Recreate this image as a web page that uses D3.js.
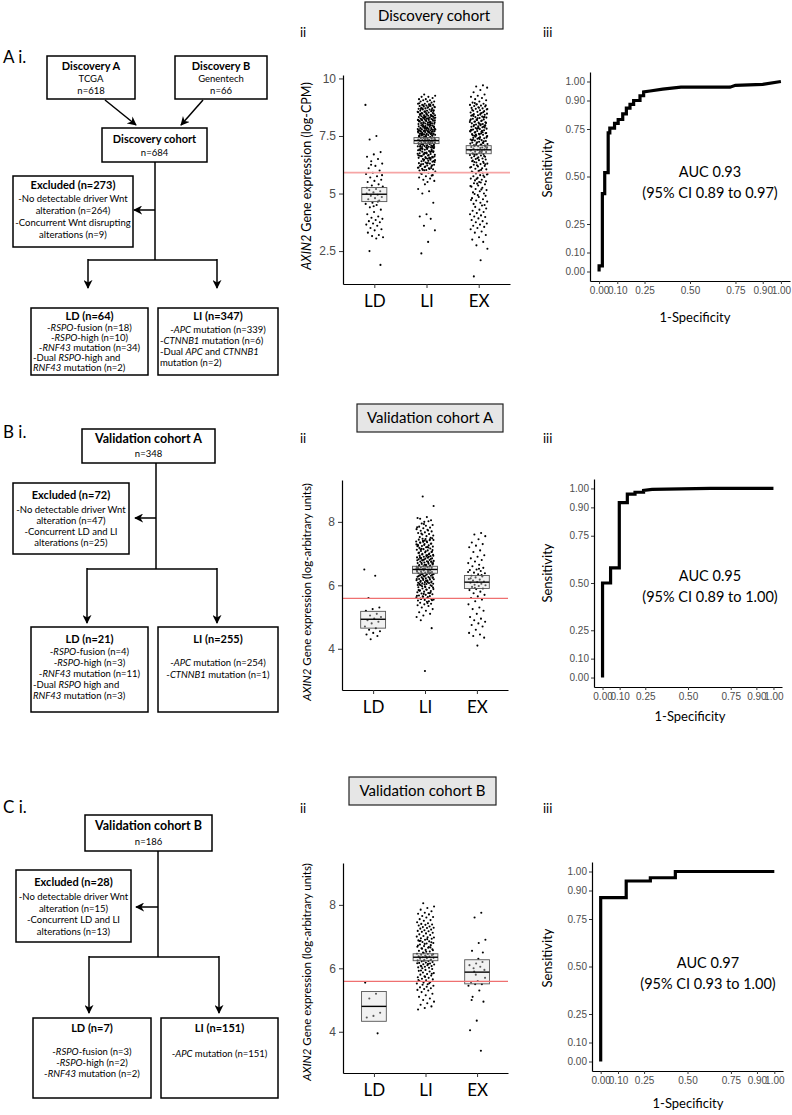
<!DOCTYPE html>
<html>
<head>
<meta charset="utf-8">
<script src="https://cdn.jsdelivr.net/npm/d3@7"></script>
<style>
  body { margin: 0; background: #fff; }
  svg { display: block; }
  text { white-space: pre; }
</style>
</head>
<body>
<div id="fig"></div>
<script>
// ---- data ----
const groups = ["LD", "LI", "EX"];

// Discovery cohort, AXIN2 log-CPM
const discLD = [8.85, 7.5, 7.35, 6.8, 6.7, 6.6, 6.5, 6.4, 6.3, 6.2, 6.1, 6.0, 5.9, 5.85, 5.75, 5.7, 5.6, 5.55, 5.5, 5.4, 5.35, 5.3, 5.2, 5.15, 5.1, 5.05, 5.0, 4.95, 4.9, 4.85, 4.8, 4.75, 4.7, 4.6, 4.55, 4.5, 4.4, 4.3, 4.2, 4.1, 4.0, 3.95, 3.9, 3.85, 3.8, 3.75, 3.7, 3.65, 3.6, 3.5, 3.45, 3.4, 3.3, 3.2, 3.15, 3.1, 3.05, 2.5, 1.9, 4.45, 5.25, 4.65, 6.25, 5.8];
const discLI = [9.3, 9.25, 9.2, 9.2, 9.15, 9.1, 9.1, 9.05, 9.05, 9.0, 9.0, 9.0,
  8.95, 8.9, 8.9, 8.88, 8.85, 8.85, 8.82, 8.8, 8.8, 8.78, 8.75, 8.75, 8.72, 8.7, 8.7, 8.68, 8.65, 8.65, 8.62, 8.6, 8.6, 8.58, 8.55, 8.55, 8.52, 8.5, 8.5, 8.5, 8.92, 8.87, 8.83, 8.77, 8.73, 8.67, 8.63, 8.57, 8.53, 8.81, 8.69, 8.59,
  8.45, 8.44, 8.42, 8.4, 8.4, 8.38, 8.36, 8.35, 8.34, 8.32, 8.3, 8.3, 8.28, 8.26, 8.25, 8.24, 8.22, 8.2, 8.2, 8.18, 8.16, 8.15, 8.14, 8.12, 8.1, 8.1, 8.08, 8.06, 8.05, 8.04, 8.02, 8.0, 8.0, 8.47, 8.43, 8.41, 8.37, 8.33, 8.29, 8.27, 8.23, 8.21, 8.17, 8.13, 8.11, 8.07, 8.03, 8.01, 8.46, 8.39, 8.31, 8.19, 8.09, 8.48, 8.35, 8.25, 8.15, 8.05, 8.28, 8.18,
  7.98, 7.96, 7.95, 7.93, 7.92, 7.9, 7.9, 7.88, 7.87, 7.85, 7.84, 7.82, 7.8, 7.8, 7.79, 7.77, 7.76, 7.75, 7.74, 7.72, 7.71, 7.7, 7.7, 7.68, 7.67, 7.65, 7.64, 7.62, 7.61, 7.6, 7.6, 7.58, 7.57, 7.55, 7.54, 7.52, 7.51, 7.5, 7.5, 7.99, 7.94, 7.89, 7.86, 7.83, 7.78, 7.73, 7.69, 7.66, 7.63, 7.59, 7.56, 7.53, 7.97, 7.91, 7.81, 7.71, 7.61, 7.52, 7.85, 7.75, 7.65, 7.55, 7.92, 7.82, 7.72, 7.62, 7.88, 7.78, 7.68, 7.58, 7.7,
  7.48, 7.46, 7.45, 7.43, 7.42, 7.4, 7.4, 7.38, 7.36, 7.35, 7.33, 7.32, 7.3, 7.3, 7.28, 7.26, 7.25, 7.23, 7.22, 7.2, 7.2, 7.18, 7.16, 7.15, 7.13, 7.12, 7.1, 7.1, 7.08, 7.06, 7.05, 7.03, 7.02, 7.0, 7.0, 7.47, 7.44, 7.41, 7.37, 7.34, 7.29, 7.27, 7.24, 7.19, 7.17, 7.14, 7.09, 7.07, 7.04, 7.01, 7.45, 7.35, 7.25, 7.15, 7.05, 7.42, 7.32, 7.22, 7.12, 7.02,
  6.98, 6.95, 6.92, 6.9, 6.88, 6.85, 6.82, 6.8, 6.78, 6.75, 6.72, 6.7, 6.68, 6.65, 6.62, 6.6, 6.58, 6.55, 6.52, 6.5, 6.97, 6.93, 6.87, 6.83, 6.77, 6.73, 6.67, 6.63, 6.57, 6.53, 6.91, 6.81, 6.71, 6.61, 6.51, 6.96, 6.86, 6.76, 6.66, 6.56, 6.94, 6.84, 6.74, 6.64, 6.54,
  6.48, 6.45, 6.42, 6.4, 6.38, 6.35, 6.32, 6.3, 6.28, 6.25, 6.22, 6.2, 6.18, 6.15, 6.12, 6.1, 6.08, 6.05, 6.02, 6.0, 6.47, 6.43, 6.37, 6.33, 6.27, 6.23, 6.17, 6.13, 6.07, 6.03, 6.41, 6.31, 6.21, 6.11, 6.01,
  5.95, 5.9, 5.85, 5.8, 5.75, 5.7, 5.65, 5.6, 5.55, 5.5, 5.88, 5.78, 5.4, 5.2, 5.1, 5.0,
  4.6, 4.1, 4.0, 3.9, 3.6, 3.4, 2.9, 2.4];
const discEX = [9.7, 9.65, 9.6, 9.5, 9.4, 9.3, 9.25, 9.2, 9.15, 9.1, 9.05, 9.0,
  8.95, 8.9, 8.88, 8.85, 8.82, 8.8, 8.78, 8.75, 8.72, 8.7, 8.68, 8.65, 8.62, 8.6, 8.58, 8.55, 8.52, 8.5, 8.93, 8.83, 8.73, 8.63, 8.53, 8.87, 8.67,
  8.48, 8.45, 8.42, 8.4, 8.38, 8.35, 8.32, 8.3, 8.28, 8.25, 8.22, 8.2, 8.18, 8.15, 8.12, 8.1, 8.08, 8.05, 8.02, 8.0, 8.47, 8.43, 8.37, 8.33, 8.27, 8.23, 8.17, 8.13, 8.07, 8.03, 8.41, 8.31, 8.21, 8.11, 8.01,
  7.98, 7.95, 7.92, 7.9, 7.88, 7.85, 7.82, 7.8, 7.78, 7.75, 7.72, 7.7, 7.68, 7.65, 7.62, 7.6, 7.58, 7.55, 7.52, 7.5, 7.97, 7.93, 7.87, 7.83, 7.77, 7.73, 7.67, 7.63, 7.57, 7.53, 7.91, 7.81, 7.71, 7.61, 7.51, 7.96, 7.86, 7.76, 7.66, 7.56,
  7.48, 7.45, 7.42, 7.4, 7.38, 7.35, 7.32, 7.3, 7.28, 7.25, 7.22, 7.2, 7.18, 7.15, 7.12, 7.1, 7.08, 7.05, 7.02, 7.0, 7.47, 7.43, 7.37, 7.33, 7.27, 7.23, 7.17, 7.13, 7.07, 7.03, 7.41, 7.31, 7.21, 7.11, 7.01,
  6.98, 6.95, 6.92, 6.9, 6.88, 6.85, 6.82, 6.8, 6.77, 6.75, 6.72, 6.7, 6.67, 6.65, 6.62, 6.6, 6.57, 6.55, 6.52, 6.5, 6.93, 6.83, 6.73, 6.63, 6.53, 6.87, 6.78, 6.68,
  6.48, 6.45, 6.4, 6.38, 6.35, 6.3, 6.28, 6.25, 6.2, 6.18, 6.15, 6.1, 6.08, 6.05, 6.0, 6.43, 6.33, 6.23, 6.13, 6.03, 6.37, 6.27,
  5.98, 5.95, 5.9, 5.87, 5.83, 5.8, 5.75, 5.72, 5.68, 5.65, 5.6, 5.57, 5.53, 5.5, 5.93, 5.78, 5.63, 5.85,
  5.48, 5.45, 5.4, 5.35, 5.3, 5.25, 5.2, 5.15, 5.1, 5.05, 5.0, 5.43, 5.33, 5.18,
  4.98, 4.9, 4.85, 4.8, 4.75, 4.7, 4.65, 4.6, 4.55, 4.5, 4.93, 4.72,
  4.48, 4.42, 4.35, 4.3, 4.25, 4.2, 4.15, 4.1, 4.05, 4.0,
  3.98, 3.92, 3.85, 3.8, 3.75, 3.7, 3.65, 3.6, 3.55, 3.5,
  3.45, 3.35, 3.3, 3.2, 3.1, 3.0, 2.9, 2.75, 2.6, 2.1, 1.4];

// Validation cohort A, log-arbitrary units
const valALD = [6.5, 6.3, 5.6, 5.3, 5.25, 5.2, 5.1, 5.05, 5.0, 4.95, 4.9, 4.85, 4.8, 4.7, 4.65, 4.6, 4.55, 4.5, 4.45, 4.4, 4.3];
const valALI = [8.8, 8.5, 8.15, 8.1, 8.05, 8.0, 8.12, 8.02,
  7.95, 7.9, 7.88, 7.85, 7.82, 7.8, 7.77, 7.75, 7.72, 7.7, 7.67, 7.65, 7.62, 7.6, 7.57, 7.55, 7.52, 7.5, 7.93, 7.83, 7.73, 7.63,
  7.48, 7.46, 7.44, 7.42, 7.4, 7.38, 7.36, 7.34, 7.32, 7.3, 7.28, 7.26, 7.24, 7.22, 7.2, 7.18, 7.16, 7.14, 7.12, 7.1, 7.08, 7.06, 7.04, 7.02, 7.0, 7.47, 7.43, 7.39, 7.35, 7.31, 7.27, 7.23, 7.19, 7.15, 7.11, 7.07, 7.03, 7.45, 7.37, 7.29, 7.21, 7.13, 7.05, 7.41, 7.25,
  6.98, 6.97, 6.96, 6.95, 6.94, 6.92, 6.9, 6.88, 6.87, 6.86, 6.85, 6.84, 6.82, 6.8, 6.78, 6.77, 6.76, 6.75, 6.74, 6.72, 6.7, 6.68, 6.67, 6.66, 6.65, 6.64, 6.62, 6.6, 6.58, 6.57, 6.56, 6.55, 6.54, 6.52, 6.5, 6.99, 6.93, 6.91, 6.89, 6.83, 6.81, 6.79, 6.73, 6.71, 6.69, 6.63, 6.61, 6.59, 6.53, 6.51, 6.95, 6.85, 6.75, 6.65, 6.55, 6.9, 6.8, 6.7, 6.6, 6.5,
  6.48, 6.47, 6.46, 6.45, 6.44, 6.42, 6.4, 6.38, 6.37, 6.36, 6.35, 6.34, 6.32, 6.3, 6.28, 6.27, 6.26, 6.25, 6.24, 6.22, 6.2, 6.18, 6.17, 6.16, 6.15, 6.14, 6.12, 6.1, 6.08, 6.07, 6.06, 6.05, 6.04, 6.02, 6.0, 6.49, 6.43, 6.41, 6.39, 6.33, 6.31, 6.29, 6.23, 6.21, 6.19, 6.13, 6.11, 6.09, 6.03, 6.01, 6.45, 6.35, 6.25, 6.15, 6.05, 6.4, 6.3, 6.2, 6.1, 6.0,
  5.98, 5.96, 5.94, 5.92, 5.9, 5.88, 5.86, 5.84, 5.82, 5.8, 5.78, 5.76, 5.74, 5.72, 5.7, 5.68, 5.66, 5.64, 5.62, 5.6, 5.58, 5.56, 5.54, 5.52, 5.5, 5.97, 5.93, 5.87, 5.83, 5.77, 5.73, 5.67, 5.63, 5.57, 5.53, 5.95, 5.85, 5.75, 5.65, 5.55,
  5.48, 5.45, 5.42, 5.4, 5.37, 5.35, 5.3, 5.25, 5.2, 5.15, 5.1, 5.05, 5.0, 5.44,
  4.9, 4.65, 3.3];
const valAEX = [7.65, 7.6, 7.55, 7.45, 7.35, 7.3, 7.25, 7.2, 7.1, 7.05, 6.95, 6.9, 6.85, 6.8, 6.75, 6.7, 6.65, 6.6, 6.55, 6.5, 6.48, 6.45, 6.4, 6.38, 6.35, 6.3, 6.28, 6.25, 6.2, 6.18, 6.15, 6.12, 6.1, 6.08, 6.05, 6.02, 6.0, 5.98, 5.95, 5.9, 5.88, 5.85, 5.8, 5.75, 5.7, 5.65, 5.6, 5.55, 5.5, 5.4, 5.3, 5.25, 5.2, 5.1, 5.0, 4.95, 4.9, 4.85, 4.8, 4.75, 4.7, 4.6, 4.5, 4.45, 4.4, 4.35, 4.1, 6.22, 6.32, 5.92, 6.42, 6.52];

// Validation cohort B, log-arbitrary units
const valBLD = [5.55, 5.2, 5.05, 4.6, 4.5, 4.45, 3.95];
const valBLI = [8.05, 7.95, 7.9, 7.85, 7.8, 7.75, 7.72, 7.7, 7.65, 7.62, 7.6, 7.55, 7.52, 7.5,
  7.45, 7.42, 7.4, 7.38, 7.37, 7.35, 7.32, 7.3, 7.28, 7.27, 7.25, 7.22, 7.2, 7.18, 7.17, 7.15, 7.12, 7.1, 7.07, 7.05, 7.02, 7.0,
  6.98, 6.95, 6.93, 6.9, 6.88, 6.85, 6.83, 6.8, 6.78, 6.75, 6.73, 6.7, 6.68, 6.65, 6.63, 6.6, 6.58, 6.55, 6.53, 6.5, 6.97, 6.92, 6.87, 6.82, 6.77, 6.72, 6.67, 6.62, 6.57, 6.52, 6.86, 6.66,
  6.48, 6.46, 6.45, 6.43, 6.42, 6.4, 6.38, 6.37, 6.35, 6.33, 6.32, 6.3, 6.28, 6.27, 6.25, 6.23, 6.22, 6.2, 6.18, 6.17, 6.15, 6.13, 6.12, 6.1, 6.08, 6.07, 6.05, 6.03, 6.02, 6.0, 6.44, 6.36, 6.34, 6.26, 6.24, 6.16, 6.14, 6.06,
  5.98, 5.95, 5.92, 5.9, 5.87, 5.85, 5.82, 5.8, 5.77, 5.75, 5.72, 5.7, 5.67, 5.65, 5.62, 5.6, 5.57, 5.55, 5.52, 5.5, 5.93, 5.83, 5.73, 5.63, 5.53,
  5.48, 5.45, 5.42, 5.4, 5.37, 5.35, 5.32, 5.3, 5.25, 5.2, 5.15, 5.1, 5.05, 5.0,
  4.95, 4.9, 4.85, 4.8, 4.75, 4.7];
const valBEX = [7.75, 7.6, 6.9, 6.8, 6.55, 6.5, 6.15, 6.1, 6.05, 6.0, 5.95, 5.6, 5.55, 5.5, 5.5, 5.45, 5.3, 5.1, 4.95, 4.35, 4.05, 3.4, 5.9, 5.7, 6.3, 5.0, 6.2, 5.8];

// crossbars: [low, mid, high] for LD, LI, EX
const discBox = [[4.65, 4.97, 5.26], [7.17, 7.3, 7.43], [6.73, 6.9, 7.08]];
const valABox = [[4.65, 4.93, 5.18], [6.38, 6.5, 6.6], [5.9, 6.1, 6.31]];
const valBBox = [[4.33, 4.8, 5.27], [6.24, 6.35, 6.46], [5.51, 5.88, 6.27]];

const cutoffs = [5.91, 5.59, 5.59];
const discTicks = [2.5, 5, 7.5, 10];
const valTicks = [4, 6, 8];

// ROC curves (1-specificity, sensitivity)
const rocDiscFpr = [0, 0, 0.018, 0.018, 0.031, 0.031, 0.05, 0.05, 0.059, 0.059, 0.085, 0.085, 0.105, 0.105, 0.13, 0.13, 0.15, 0.15, 0.17, 0.17, 0.19, 0.19, 0.225, 0.225, 0.245, 0.245, 0.28, 0.35, 0.45, 0.72, 0.75, 0.9, 1.0];
const rocDiscTpr = [0, 0.03, 0.03, 0.41, 0.41, 0.52, 0.52, 0.73, 0.73, 0.755, 0.755, 0.78, 0.78, 0.8, 0.8, 0.83, 0.83, 0.86, 0.86, 0.88, 0.88, 0.9, 0.9, 0.925, 0.925, 0.945, 0.95, 0.96, 0.97, 0.97, 0.98, 0.985, 1.0];
const rocValAFpr = [0, 0, 0.047, 0.047, 0.098, 0.098, 0.145, 0.145, 0.19, 0.19, 0.24, 0.24, 0.29, 0.63, 1.0];
const rocValATpr = [0, 0.5, 0.5, 0.58, 0.58, 0.925, 0.925, 0.97, 0.97, 0.98, 0.98, 0.99, 0.995, 1.0, 1.0];
const rocValBFpr = [0, 0, 0.147, 0.147, 0.286, 0.286, 0.43, 0.43, 1.0];
const rocValBTpr = [0, 0.862, 0.862, 0.95, 0.95, 0.967, 0.967, 1.0, 1.0];
const rocTicks = [0, 0.1, 0.25, 0.5, 0.75, 0.9, 1.0];
const aucText = ["AUC 0.93", "AUC 0.95", "AUC 0.97"];
const ciText = ["(95% CI 0.89 to 0.97)", "(95% CI 0.89 to 1.00)", "(95% CI 0.93 to 1.00)"];
const cohortTitles = ["Discovery cohort", "Validation cohort A", "Validation cohort B"];

// ---- drawing ----
const sans = "Lato, 'Open Sans', sans-serif";
const arial = "'Liberation Sans', Arial, sans-serif";

const svg = d3.select("#fig").append("svg")
  .attr("width", 792).attr("height", 1115)
  .style("font-family", sans);

svg.append("defs").append("marker")
  .attr("id", "arr").attr("viewBox", "0 0 10 10")
  .attr("refX", 9).attr("refY", 5)
  .attr("markerWidth", 9).attr("markerHeight", 9)
  .attr("markerUnits", "userSpaceOnUse").attr("orient", "auto")
  .append("path").attr("d", "M0,0 L10,5 L0,10 L3,5 Z").attr("fill", "#000");

// italic parts are wrapped in *...*
function rich(t, str) {
  str.split("*").forEach((s, i) => {
    if (s) t.append("tspan").attr("font-style", i % 2 ? "italic" : null).text(s);
  });
}

function box(x, y, w, h, rows, tsize) {
  svg.append("rect").attr("x", x).attr("y", y).attr("width", w).attr("height", h)
    .attr("fill", "#fff").attr("stroke", "#000").attr("stroke-width", 1.5);
  rows.forEach(r => {
    const t = svg.append("text").attr("y", r[1])
      .attr("font-size", r[2] ? (tsize || 11) : 9.5)
      .attr("font-weight", r[2] ? "bold" : null);
    if (r[3] === "l") t.attr("x", x + 2);
    else t.attr("x", x + w / 2).attr("text-anchor", "middle");
    rich(t, r[0]);
  });
}

function seg(x1, y1, x2, y2, arrow) {
  svg.append("line").attr("x1", x1).attr("y1", y1).attr("x2", x2).attr("y2", y2)
    .attr("stroke", "#000").attr("stroke-width", 1.5)
    .attr("marker-end", arrow ? "url(#arr)" : null);
}

function label(x, y, str, size) {
  svg.append("text").attr("x", x).attr("y", y).attr("font-size", size).text(str);
}

// panel letters
label(3, 63, "A i.", 17);
label(3, 438, "B i.", 17);
label(3, 813, "C i.", 17);
[37, 443, 813].forEach(b => {
  label(300, b, "ii", 13);
  label(543, b, "iii", 13);
});

// ---- flowcharts ----
// A
box(47, 56, 88, 43, [["Discovery A", 70, 1], ["TCGA", 82], ["n=618", 94]]);
box(175, 56, 92, 43, [["Discovery B", 70, 1], ["Genentech", 82], ["n=66", 94]]);
seg(105, 100, 136, 125, true);
seg(203, 100, 181, 125, true);
box(102, 128, 105, 34, [["Discovery cohort", 143, 1], ["n=684", 156]]);
seg(155, 162, 155, 260);
seg(155, 210, 134, 210, true);
box(13, 176, 120, 71, [["Excluded (n=273)", 189, 1], ["-No detectable driver Wnt", 202],
  ["alteration (n=264)", 214], ["-Concurrent Wnt disrupting", 226], ["alterations (n=9)", 238]]);
seg(88, 260, 217, 260);
seg(88, 259, 88, 288, true);
seg(217, 259, 217, 288, true);
box(31, 308, 117, 67, [["LD (n=64)", 320, 1], ["-*RSPO*-fusion (n=18)", 331], ["-*RSPO*-high (n=10)", 341],
  ["-*RNF43* mutation (n=34)", 351], ["-Dual *RSPO*-high and", 361, 0, "l"], ["*RNF43* mutation (n=2)", 371, 0, "l"]]);
box(158, 308, 120, 67, [["LI (n=347)", 320, 1], ["-*APC* mutation (n=339)", 333],
  ["-*CTNNB1* mutation (n=6)", 344, 0, "l"], ["-Dual *APC* and *CTNNB1*", 355, 0, "l"], ["mutation (n=2)", 366, 0, "l"]]);

// B
box(82, 429, 133, 34, [["Validation cohort A", 443, 1], ["n=348", 457]], 12.5);
seg(156, 463, 156, 569);
seg(156, 518, 135, 518, true);
box(13, 483, 116, 71, [["Excluded (n=72)", 499, 1], ["-No detectable driver Wnt", 513],
  ["alteration (n=47)", 524], ["-Concurrent LD and LI", 535], ["alterations (n=25)", 546]]);
seg(87, 569, 217, 569);
seg(87, 568, 87, 623, true);
seg(217, 568, 217, 623, true);
box(31, 627, 117, 85, [["LD (n=21)", 643, 1], ["-*RSPO*-fusion (n=4)", 655], ["-*RSPO*-high (n=3)", 666],
  ["-*RNF43* mutation (n=11)", 677], ["-Dual *RSPO* high and", 688, 0, "l"], ["*RNF43* mutation (n=3)", 699, 0, "l"]]);
box(158, 627, 120, 85, [["LI (n=255)", 643, 1], ["-*APC* mutation (n=254)", 666], ["-*CTNNB1* mutation (n=1)", 678]]);

// C
box(85, 815, 127, 36, [["Validation cohort B", 830, 1], ["n=186", 845]], 12.5);
seg(158, 851, 158, 957);
seg(158, 907, 136, 907, true);
box(16, 870, 115, 72, [["Excluded (n=28)", 886, 1], ["-No detectable driver Wnt", 900],
  ["alteration (n=15)", 912], ["-Concurrent LD and LI", 923], ["alterations (n=13)", 935]]);
seg(89, 957, 219, 957);
seg(89, 956, 89, 1013, true);
seg(219, 956, 219, 1013, true);
box(33, 1018, 118, 80, [["LD (n=7)", 1032, 1], ["-*RSPO*-fusion (n=3)", 1055], ["-*RSPO*-high (n=2)", 1066],
  ["-*RNF43* mutation (n=2)", 1077]]);
box(161, 1018, 117, 80, [["LI (n=151)", 1032, 1], ["-*APC* mutation (n=151)", 1057]]);

// ---- cohort title boxes ----
[[365, 2, 138, 27], [357, 404, 146, 28], [349, 777, 147, 28]].forEach((b, k) => {
  svg.append("rect").attr("x", b[0]).attr("y", b[1]).attr("width", b[2]).attr("height", b[3])
    .attr("fill", "#e6e6e6").attr("stroke", "#222").attr("stroke-width", 1.2);
  svg.append("text").attr("x", b[0] + b[2] / 2).attr("y", b[1] + b[3] / 2 + 5)
    .attr("text-anchor", "middle").attr("font-size", 15).text(cohortTitles[k]);
});

// ---- jittered strip plots ----
function jit(i, k) { return ((i * 0.618034 + k * 0.37) % 1) * 2 - 1; }

function strip(o) {
  const x = d3.scalePoint().domain(groups).range([o.x0, o.x1]).padding(0.6);
  const y = d3.scaleLinear().domain(o.dom).range([o.y1, o.y0]);
  const step = x.step();
  const g = svg.append("g");

  o.vals.forEach((vals, k) => {
    g.selectAll(null).data(vals).join("circle")
      .attr("cx", (d, i) => x(groups[k]) + jit(i, k) * step * 0.17)
      .attr("cy", d => y(d)).attr("r", 1.05).attr("fill", "#000");
  });

  g.selectAll(null).data(o.box).join("rect")
    .attr("x", (d, k) => x(groups[k]) - step * 0.24).attr("width", step * 0.48)
    .attr("y", d => y(d[2])).attr("height", d => y(d[0]) - y(d[2]))
    .attr("fill", "#dcdcdc").attr("fill-opacity", 0.4)
    .attr("stroke", "#555").attr("stroke-width", 0.9);
  g.selectAll(null).data(o.box).join("line")
    .attr("x1", (d, k) => x(groups[k]) - step * 0.24).attr("x2", (d, k) => x(groups[k]) + step * 0.24)
    .attr("y1", d => y(d[1])).attr("y2", d => y(d[1]))
    .attr("stroke", "#000").attr("stroke-width", 1.4);

  g.append("line").attr("x1", o.x0).attr("x2", o.x1)
    .attr("y1", y(o.cut)).attr("y2", y(o.cut))
    .attr("stroke", o.cutColor).attr("stroke-width", o.cutWidth);

  const ya = g.append("g").attr("transform", `translate(${o.x0},0)`)
    .call(d3.axisLeft(y).tickValues(o.ticks).tickSize(4).tickSizeOuter(0).tickPadding(3).tickFormat(d => String(d)));
  ya.selectAll("text").attr("font-family", arial).attr("font-size", 12).attr("fill", "#4d4d4d");
  const xa = g.append("g").attr("transform", `translate(0,${o.y1})`)
    .call(d3.axisBottom(x).tickSize(4).tickSizeOuter(0).tickPadding(7));
  xa.selectAll("text").attr("font-family", sans).attr("font-size", 17).attr("fill", "#000");
  [ya, xa].forEach(a => {
    a.select(".domain").attr("stroke", "#000").attr("stroke-width", 1.2);
    a.selectAll(".tick line").attr("stroke", "#333");
  });

  const yl = g.append("text")
    .attr("transform", `translate(${o.labX},${o.labY}) rotate(-90)`)
    .attr("text-anchor", "middle").attr("font-size", o.labSize);
  yl.append("tspan").attr("font-style", "italic").text("AXIN2");
  yl.append("tspan").text(" Gene expression (" + o.unit + ")");
}

strip({ x0: 343, x1: 510, y0: 75, y1: 284, dom: [1.07, 10.15], ticks: discTicks,
  vals: [discLD, discLI, discEX], box: discBox, cut: cutoffs[0], cutColor: "#f6a5a5", cutWidth: 1.8,
  labX: 311, labY: 176, labSize: 12.5, unit: "log-CPM" });
strip({ x0: 342, x1: 508, y0: 480, y1: 690, dom: [2.7, 9.32], ticks: valTicks,
  vals: [valALD, valALI, valAEX], box: valABox, cut: cutoffs[1], cutColor: "#ef7070", cutWidth: 1.2,
  labX: 311, labY: 592, labSize: 11.5, unit: "log-arbitrary units" });
strip({ x0: 343, x1: 508, y0: 863, y1: 1073, dom: [2.7, 9.32], ticks: valTicks,
  vals: [valBLD, valBLI, valBEX], box: valBBox, cut: cutoffs[2], cutColor: "#ef7070", cutWidth: 1.2,
  labX: 311, labY: 972, labSize: 11.5, unit: "log-arbitrary units" });

// ---- ROC curves ----
function roc(o) {
  const x = d3.scaleLinear().domain([-0.05, 1.05]).range([o.x0, o.x1]);
  const y = d3.scaleLinear().domain([-0.05, 1.05]).range([o.y1, o.y0]);
  const g = svg.append("g");
  const pts = o.fpr.map((f, i) => [f, o.tpr[i]]);
  g.append("path").datum(pts)
    .attr("d", d3.line().x(d => x(d[0])).y(d => y(d[1])))
    .attr("fill", "none").attr("stroke", "#000").attr("stroke-width", 3.2)
    .attr("stroke-linejoin", "miter");

  const fmt = d3.format(".2f");
  const ya = g.append("g").attr("transform", `translate(${o.x0},0)`)
    .call(d3.axisLeft(y).tickValues(rocTicks).tickSize(3).tickSizeOuter(0).tickPadding(2).tickFormat(fmt));
  const xa = g.append("g").attr("transform", `translate(0,${o.y1})`)
    .call(d3.axisBottom(x).tickValues(rocTicks).tickSize(3).tickSizeOuter(0).tickPadding(3).tickFormat(fmt));
  [ya, xa].forEach(a => {
    a.select(".domain").attr("stroke", "#000").attr("stroke-width", 1.2);
    a.selectAll(".tick line").attr("stroke", "#333");
    a.selectAll("text").attr("font-family", arial).attr("font-size", 10).attr("fill", "#4d4d4d");
  });

  g.append("text").attr("transform", `translate(${o.sensX},${o.sensY}) rotate(-90)`)
    .attr("text-anchor", "middle").attr("font-size", 13).text("Sensitivity");
  g.append("text").attr("x", o.specX).attr("y", o.specY)
    .attr("text-anchor", "middle").attr("font-size", 13).text("1-Specificity");
  g.append("text").attr("x", o.tx).attr("y", o.ty)
    .attr("text-anchor", "middle").attr("font-size", 14.5).text(aucText[o.k]);
  g.append("text").attr("x", o.tx).attr("y", o.ty + 21)
    .attr("text-anchor", "middle").attr("font-size", 14.5).text(ciText[o.k]);
}

roc({ k: 0, x0: 590, x1: 790, y0: 72, y1: 281, fpr: rocDiscFpr, tpr: rocDiscTpr,
  sensX: 552, sensY: 168, specX: 695, specY: 322, tx: 710, ty: 177 });
roc({ k: 1, x0: 594, x1: 782, y0: 479, y1: 687, fpr: rocValAFpr, tpr: rocValATpr,
  sensX: 552, sensY: 573, specX: 690, specY: 721, tx: 710, ty: 581 });
roc({ k: 2, x0: 592, x1: 783, y0: 862, y1: 1071, fpr: rocValBFpr, tpr: rocValBTpr,
  sensX: 552, sensY: 958, specX: 688, specY: 1108, tx: 708, ty: 968 });
</script>
</body>
</html>
